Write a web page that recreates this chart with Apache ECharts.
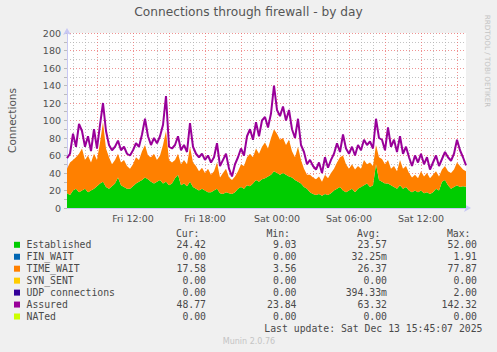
<!DOCTYPE html>
<html>
<head>
<meta charset="utf-8">
<script src="https://cdn.jsdelivr.net/npm/echarts@6/dist/echarts.min.js"></script>
<style>
  html, body { margin: 0; padding: 0; background: #f0f0f0; }
  #chart { width: 497px; height: 352px; }
</style>
</head>
<body>
<div id="chart"></div>
<script>
// samples every 15 minutes, starting Fri 06:30 (minutes since Fri 00:00)
const startMin = 390
const stepMin = 15

const established = [
  17, 15, 20, 22, 18, 20, 22, 18, 20, 22,
  25, 28, 30, 24, 22, 25, 28, 35, 26, 24,
  22, 22, 25, 28, 30, 32, 35, 33, 30, 28,
  30, 32, 28, 30, 26, 28, 34, 38, 26, 28,
  25, 30, 24, 22, 20, 22, 20, 18, 18, 20,
  22, 17, 16, 18, 17, 16, 18, 22, 24, 22,
  26, 25, 28, 32, 30, 33, 34, 36, 38, 42,
  40, 38, 40, 38, 36, 35, 32, 30, 28, 24,
  22, 18, 16, 15, 16, 14, 16, 15, 17, 20,
  22, 24, 20, 18, 20, 22, 18, 22, 24, 26,
  28, 24, 26, 50, 32, 30, 28, 28, 26, 24,
  22, 26, 22, 24, 20, 18, 20, 18, 20, 17,
  18, 16, 18, 22, 20, 30, 32, 26, 22, 24,
  26, 24, 25, 24.42
]

const timeWait = [
  28, 37, 35, 36, 44, 48, 33, 42, 32, 40,
  30, 47, 68, 44, 36, 25, 27, 27, 26, 31,
  26, 23, 25, 30, 25, 33, 37, 27, 28, 34,
  25, 28, 44, 58, 29, 24, 21, 24, 24, 27,
  25, 40, 28, 26, 22, 24, 20, 27, 20, 22,
  30, 18, 24, 27, 18, 16, 18, 20, 26, 26,
  32, 37, 30, 36, 32, 37, 41, 32, 42, 48,
  45, 40, 40, 34, 42, 30, 26, 40, 27, 21,
  16, 20, 19, 18, 20, 16, 22, 19, 23, 25,
  30, 34, 40, 32, 25, 28, 26, 26, 21, 29,
  22, 28, 22, 22, 26, 26, 22, 27, 19, 24,
  20, 29, 23, 24, 20, 17, 18, 16, 22, 19,
  22, 18, 20, 20, 16, 14, 16, 16, 18, 20,
  26, 24, 19, 17.58
]

const assured = [
  57, 62, 85, 70, 96, 88, 70, 82, 65, 90,
  68, 95, 120, 88, 72, 66, 70, 77, 66, 70,
  62, 60, 66, 74, 70, 84, 102, 82, 72, 80,
  74, 82, 95, 128, 70, 68, 72, 82, 66, 72,
  64, 97, 70, 62, 58, 62, 55, 60, 52, 58,
  74, 48, 55, 62, 45, 36, 50, 58, 68, 60,
  82, 90, 78, 98, 82, 100, 104, 92, 108, 140,
  112, 105, 116, 100, 112, 90, 80, 102, 72, 64,
  50, 55, 48, 44, 52, 40, 58, 46, 55, 62,
  74, 64, 84, 68, 62, 70, 60, 72, 66, 78,
  72, 76, 68, 102, 80, 78, 66, 92, 70, 78,
  64, 82, 62, 70, 58, 48, 60, 52, 62, 50,
  58, 44, 52, 60, 48, 56, 64, 58, 54, 62,
  78, 66, 58, 48.77
]

const tickTimes = [720, 1080, 1440, 1800, 2160]
const tickLabels = ['Fri 12:00', 'Fri 18:00', 'Sat 00:00', 'Sat 06:00', 'Sat 12:00']

const legendNames = ['Established', 'FIN_WAIT', 'TIME_WAIT', 'SYN_SENT', 'UDP connections', 'Assured', 'NATed']
const legendColors = ['#00cc00', '#0066b3', '#ff8000', '#ffcc00', '#330099', '#990099', '#ccff00']
const curVals = ['24.42', '0.00', '17.58', '0.00', '0.00', '48.77', '0.00']
const minVals = ['9.03', '0.00', '3.56', '0.00', '0.00', '23.84', '0.00']
const avgVals = ['23.57', '32.25m', '26.37', '0.00', '394.33m', '63.32', '0.00']
const maxVals = ['52.00', '1.91', '77.87', '0.00', '2.00', '142.32', '0.00']

const times = established.map((_, i) => startMin + i * stepMin)

const MONO = '"DejaVu Sans Mono", monospace'
const SANS = '"DejaVu Sans", sans-serif'
const gridRed = 'rgba(235, 110, 110, 0.75)'
const gridGrey = 'rgba(175, 175, 175, 0.75)'
const axisBlue = '#c8c8f4'

function legendGraphics() {
  const els = []
  const txt = (text, x, y, align, extra) => ({
    type: 'text',
    silent: true,
    style: Object.assign({
      text, x, y,
      align, textAlign: align,
      verticalAlign: 'middle', textVerticalAlign: 'middle',
      font: '9.8px ' + MONO,
      fill: '#4a4a4a'
    }, extra || {})
  })
  const headY = 233
  els.push(txt('Cur:', 199.5, headY, 'right'))
  els.push(txt('Min:', 290, headY, 'right'))
  els.push(txt('Avg:', 380.5, headY, 'right'))
  els.push(txt('Max:', 470.5, headY, 'right'))
  legendNames.forEach((name, k) => {
    const y = 244.8 + k * 11.95
    els.push({
      type: 'rect',
      silent: true,
      shape: { x: 14, y: y - 3, width: 6, height: 6 },
      style: { fill: legendColors[k] }
    })
    els.push(txt(name, 26.5, y, 'left'))
    els.push(txt(curVals[k], 206, y, 'right'))
    els.push(txt(minVals[k], 296.5, y, 'right'))
    els.push(txt(avgVals[k], 387, y, 'right'))
    els.push(txt(maxVals[k], 477, y, 'right'))
  })
  els.push(txt('Last update: Sat Dec 13 15:45:07 2025', 482.5, 328.6, 'right'))
  els.push(txt('Munin 2.0.76', 249, 341.5, 'center', { font: '8px ' + SANS, fill: '#c4c4c4' }))
  els.push({
    type: 'text',
    silent: true,
    x: 487.5,
    y: 61,
    rotation: -Math.PI / 2,
    style: {
      text: 'RRDTOOL / TOBI OETIKER',
      x: 0, y: 0,
      align: 'center', textAlign: 'center',
      verticalAlign: 'middle', textVerticalAlign: 'middle',
      font: '7.2px ' + SANS,
      fill: '#c4c4c4'
    }
  })
  return els
}

// grid every hour, red every 3 hours
const isHour = i => times[i] % 60 === 0

const chart = echarts.init(document.getElementById('chart'), null, { renderer: 'svg' })

chart.setOption({
  backgroundColor: '#f0f0f0',
  animation: false,
  title: {
    text: 'Connections through firewall - by day',
    left: 'center',
    top: 6,
    padding: 0,
    textStyle: { fontFamily: SANS, fontSize: 12.2, fontWeight: 'normal', color: '#555' }
  },
  grid: {
    left: 67,
    top: 33,
    width: 399,
    height: 175,
    outerBoundsMode: 'none',
    containLabel: false,
    show: true,
    backgroundColor: '#ffffff',
    borderWidth: 0
  },
  xAxis: {
    type: 'category',
    data: times,
    boundaryGap: false,
    axisLine: {
      show: true,
      symbol: ['none', 'arrow'],
      symbolSize: [6, 7],
      symbolOffset: [0, 5],
      lineStyle: { color: axisBlue, width: 1 }
    },
    axisTick: { show: false },
    axisLabel: {
      margin: 5,
      fontFamily: SANS,
      fontSize: 9.5,
      color: '#505050',
      interval: i => tickTimes.indexOf(times[i]) >= 0,
      formatter: (v, i) => {
        const k = tickTimes.indexOf(times[i])
        return k >= 0 ? tickLabels[k] : ''
      }
    },
    splitLine: {
      show: true,
      interval: i => isHour(i),
      lineStyle: {
        type: [1, 2],
        width: 1,
        // first hour line is 07:00
        color: [gridGrey, gridGrey, gridRed]
      }
    }
  },
  yAxis: {
    type: 'value',
    min: 0,
    max: 200,
    interval: 10,
    name: 'Connections',
    nameLocation: 'middle',
    nameGap: 50,
    nameTextStyle: { fontFamily: SANS, fontSize: 10.5, color: '#555' },
    axisLine: {
      show: true,
      symbol: ['none', 'arrow'],
      symbolSize: [6, 7],
      symbolOffset: [0, 5],
      lineStyle: { color: axisBlue, width: 1 }
    },
    axisTick: { show: true, length: 3, lineStyle: { color: '#bbbbbb' } },
    axisLabel: {
      margin: 6,
      fontFamily: SANS,
      fontSize: 9.5,
      color: '#505050',
      formatter: v => (v % 20 === 0 ? String(v) : '')
    },
    splitLine: {
      show: true,
      lineStyle: { type: [1, 2], width: 1, color: [gridRed, gridGrey] }
    }
  },
  series: [
    {
      name: 'Established',
      type: 'line',
      stack: 'conn',
      data: established,
      symbol: 'none',
      lineStyle: { width: 0 },
      areaStyle: { color: '#00cc00', opacity: 1 },
      z: 2
    },
    {
      name: 'TIME_WAIT',
      type: 'line',
      stack: 'conn',
      data: timeWait,
      symbol: 'none',
      lineStyle: { width: 0 },
      areaStyle: { color: '#ff8000', opacity: 1 },
      z: 2
    },
    {
      name: 'Assured',
      type: 'line',
      data: assured,
      symbol: 'none',
      lineStyle: { width: 2, color: '#990099' },
      z: 3
    }
  ],
  graphic: legendGraphics()
})
</script>
</body>
</html>
